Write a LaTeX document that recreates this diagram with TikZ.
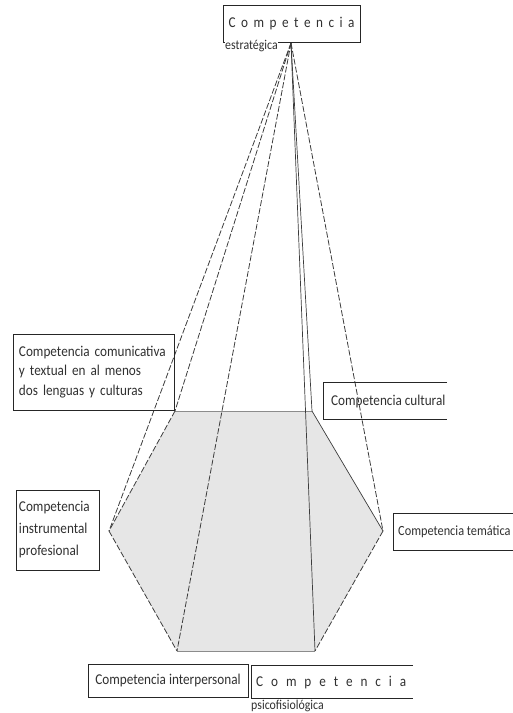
\documentclass[tikz,border=0pt]{standalone}
\usepackage{fontspec}
\setmainfont{Carlito}[FakeStretch=0.88]
\definecolor{txtc}{HTML}{303030}
\definecolor{boxc}{HTML}{262626}
\definecolor{linec}{HTML}{3C3C3C}
\definecolor{hexfill}{HTML}{E6E6E6}
\definecolor{hexedge}{HTML}{8C8C8C}
\newcommand{\spacedword}[1]{\makebox[#1][s]{C\hfill o\hfill m\hfill p\hfill e\hfill t\hfill e\hfill n\hfill c\hfill i\hfill a}}
\begin{document}
\begin{tikzpicture}[x=1pt,y=-1pt,
  txt/.style={font=\fontsize{15}{19.5}\selectfont, text=txtc, inner sep=0pt},
  small/.style={font=\fontsize{13.5}{15}\selectfont, text=txtc, inner sep=0pt},
  boxline/.style={draw=boxc, line width=0.9pt},
  dashedge/.style={draw=linec, line width=0.8pt, dash pattern=on 6pt off 2pt},
  solidedge/.style={draw=linec, line width=0.7pt},
  greyedge/.style={draw=hexedge, line width=1pt}]
\useasboundingbox (0,0) rectangle (513,713);

% hexagon vertices and apex
\coordinate (A) at (291,43);
\coordinate (TL) at (175,411);
\coordinate (TR) at (312,411);
\coordinate (R) at (383,531);
\coordinate (BR) at (315,651);
\coordinate (BL) at (177,651);
\coordinate (L) at (109,531);

\fill[hexfill] (TL)--(TR)--(R)--(BR)--(BL)--(L)--cycle;
\draw[greyedge] (TL)--(TR);
\draw[greyedge] (BL)--(BR);
\draw[dashedge] (TL)--(L);
\draw[dashedge] (L)--(BL);
\draw[solidedge] (TR)--(R);
\draw[dashedge] (R)--(BR);

% lines from apex
\draw[dashedge] (A)--(L);
\draw[dashedge] (A)--(TL);
\draw[dashedge] (A)--(BL);
\draw[dashedge] (A)--(R);
\draw[solidedge] (A)--(TR);
\draw[solidedge] (A)--(BR);

% top box
\node[txt, boxline, minimum width=137pt, minimum height=37pt, inner sep=0pt] (top) at (291.5,23.5) {\spacedword{126pt}};
\node[small, anchor=west, fill=white, inner ysep=1pt] (estr) at (225,46) {estratégica};

% comunicativa
\node[txt, boxline, minimum width=161pt, minimum height=76pt, text width=149pt, align=left, inner sep=0pt] (com) at (93.5,372) {Competencia comunicativa\\y textual en al menos\\dos lenguas y culturas};

% cultural (open right)
\node[txt, anchor=west] (cul) at (331,401) {Competencia cultural};
\draw[boxline] (447,382) -- (323,382) -- (323,419) -- (447,419);

% instrumental
\node[txt, boxline, minimum width=83pt, minimum height=80pt, text width=77pt, align=left, inner sep=0pt, font=\fontsize{15}{22}\selectfont] (ins) at (57.5,530) {Competencia\\instrumental\\profesional};

% tematica (open right)
\node[txt, anchor=west, font=\fontsize{14}{16}\selectfont] (tem) at (398,531.5) {Competencia temática};
\draw[boxline] (513,513) -- (393,513) -- (393,550) -- (513,550);

% interpersonal
\node[txt, boxline, minimum width=160pt, minimum height=33pt, inner sep=0pt] (int) at (168,680.5) {Competencia interpersonal};

% psicofisiologica (open right)
\node[txt, anchor=west] (psi) at (256,683) {\spacedword{150pt}};
\draw[boxline] (413,665) -- (251,665) -- (251,698) -- (413,698);
\node[small, anchor=west] (psi2) at (251,706) {psicofisiológica};
\end{tikzpicture}
\end{document}
